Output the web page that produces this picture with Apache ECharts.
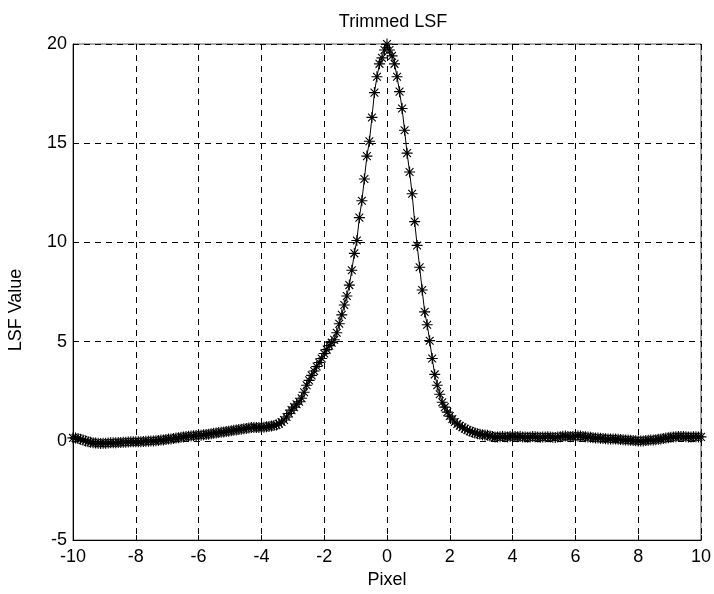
<!DOCTYPE html>
<html>
<head>
<meta charset="utf-8">
<script src="https://cdn.jsdelivr.net/npm/echarts@6/dist/echarts.min.js"></script>
<style>
  html, body { margin: 0; padding: 0; background: #fff; }
  #LsfChart { width: 714px; height: 594px; }
</style>
</head>
<body>
<div id="LsfChart"></div>
<script>
// sample grid of the trimmed LSF (pixel positions)
const xStart = -10;
const xStep = 0.08;

// LSF values, one per sample
const lsfValues = [
  0.15, 0.14, 0.12, 0.08, 0.04, 0.00, -0.04, -0.07, -0.10, -0.11,
  -0.12, -0.13, -0.12, -0.12, -0.11, -0.10, -0.10, -0.09, -0.08, -0.08,
  -0.07, -0.07, -0.06, -0.05, -0.05, -0.05, -0.04, -0.04, -0.03, -0.02,
  -0.02, -0.01, 0.00, 0.01, 0.02, 0.04, 0.05, 0.07, 0.09, 0.10,
  0.12, 0.14, 0.16, 0.18, 0.20, 0.22, 0.23, 0.25, 0.26, 0.27,
  0.28, 0.29, 0.31, 0.32, 0.34, 0.36, 0.38, 0.40, 0.42, 0.43,
  0.45, 0.47, 0.49, 0.51, 0.53, 0.55, 0.57, 0.59, 0.61, 0.63,
  0.65, 0.67, 0.68, 0.68, 0.67, 0.67, 0.69, 0.71, 0.73, 0.75,
  0.77, 0.80, 0.86, 0.95, 1.05, 1.20, 1.38, 1.55, 1.70, 1.85,
  1.97, 2.15, 2.45, 2.80, 3.05, 3.30, 3.52, 3.75, 3.95, 4.15,
  4.40, 4.60, 4.80, 4.95, 5.10, 5.45, 5.90, 6.35, 6.85, 7.30,
  7.85, 8.60, 9.45, 10.10, 11.25, 12.10, 13.20, 14.35, 15.10, 16.30,
  17.55, 18.35, 19.00, 19.30, 19.70, 20.00, 19.70, 19.40, 19.00, 18.35,
  17.60, 16.75, 15.65, 14.50, 13.55, 12.45, 11.05, 9.85, 8.75, 7.60,
  6.50, 5.85, 5.05, 4.15, 3.35, 2.80, 2.35, 1.95, 1.70, 1.45,
  1.25, 1.10, 0.95, 0.85, 0.76, 0.69, 0.61, 0.55, 0.49, 0.44,
  0.40, 0.36, 0.33, 0.31, 0.30, 0.28, 0.25, 0.22, 0.20, 0.20,
  0.21, 0.22, 0.21, 0.20, 0.22, 0.23, 0.22, 0.21, 0.22, 0.20,
  0.19, 0.18, 0.20, 0.22, 0.21, 0.19, 0.18, 0.19, 0.20, 0.21,
  0.20, 0.18, 0.17, 0.19, 0.21, 0.23, 0.24, 0.22, 0.21, 0.22,
  0.24, 0.25, 0.24, 0.22, 0.21, 0.20, 0.18, 0.16, 0.15, 0.14,
  0.13, 0.12, 0.11, 0.10, 0.10, 0.10, 0.09, 0.08, 0.07, 0.06,
  0.05, 0.04, 0.03, 0.02, 0.01, 0.00, -0.01, 0.00, 0.02, 0.03,
  0.04, 0.05, 0.06, 0.08, 0.10, 0.12, 0.14, 0.16, 0.18, 0.20,
  0.21, 0.22, 0.22, 0.22, 0.21, 0.20, 0.20, 0.21, 0.21, 0.20,
  0.20
];

const xTicks = [-10, -8, -6, -4, -2, 0, 2, 4, 6, 8, 10];
const yTicks = [-5, 0, 5, 10, 15, 20];

const font = 'Liberation Sans, Arial, sans-serif';

// matlab-style '*' marker: plus + cross made of thin bars
const starPath = 'path://M0,9L20,9L20,11L0,11Z' +
  'M9,0L11,0L11,20L9,20Z' +
  'M2.2,3.6L3.6,2.2L17.8,16.4L16.4,17.8Z' +
  'M16.4,2.2L17.8,3.6L3.6,17.8L2.2,16.4Z';

const LsfChart = {};

LsfChart.init = () => {
  LsfChart.chart = echarts.init(document.getElementById('LsfChart'));
};

LsfChart.set = () => {
  let points = lsfValues.map((v, i) => [+(xStart + i * xStep).toFixed(2), v]);

  let gridLine = {
    show: true,
    lineStyle: { color: '#000', type: [6, 5], width: 1 }
  };

  let option = {
    backgroundColor: '#fff',
    animation: false,
    title: {
      text: 'Trimmed LSF',
      left: 388,
      top: 8,
      textAlign: 'center',
      textStyle: { fontFamily: font, fontSize: 18, fontWeight: 'normal', color: '#000' }
    },
    grid: {
      left: 73,
      right: 10,
      top: 44,
      bottom: 52,
      show: true,
      borderColor: '#555',
      borderWidth: 1,
      backgroundColor: '#fff'
    },
    xAxis: {
      type: 'value',
      min: xTicks[0],
      max: xTicks[xTicks.length - 1],
      interval: 2,
      name: 'Pixel',
      nameLocation: 'middle',
      nameGap: 30,
      nameTextStyle: { fontFamily: font, fontSize: 18, color: '#000' },
      axisLine: { onZero: false, lineStyle: { color: '#000', width: 1 } },
      axisTick: { inside: true, length: 5, lineStyle: { color: '#000' } },
      axisLabel: { fontFamily: font, fontSize: 18, color: '#000', margin: 8 },
      splitLine: gridLine
    },
    yAxis: {
      type: 'value',
      min: yTicks[0],
      max: yTicks[yTicks.length - 1],
      interval: 5,
      axisLine: { show: true, onZero: false, lineStyle: { color: '#000', width: 1 } },
      axisTick: { show: true, inside: true, length: 5, lineStyle: { color: '#000' } },
      axisLabel: { fontFamily: font, fontSize: 18, color: '#000', margin: 6 },
      splitLine: gridLine
    },
    graphic: [
      {
        type: 'text',
        x: 16,
        y: 310,
        rotation: Math.PI / 2,
        style: {
          text: 'LSF Value',
          fontFamily: font,
          fontSize: 18,
          fill: '#000',
          textAlign: 'center',
          textVerticalAlign: 'middle'
        }
      }
    ],
    series: [
      {
        name: 'LSF',
        type: 'line',
        data: points,
        symbol: starPath,
        symbolSize: 11,
        showAllSymbol: true,
        itemStyle: { color: '#000' },
        lineStyle: { color: '#000', width: 1 },
        clip: false,
        z: 3
      }
    ]
  };

  LsfChart.chart.setOption(option);
};

LsfChart.init();
LsfChart.set();
</script>
</body>
</html>
